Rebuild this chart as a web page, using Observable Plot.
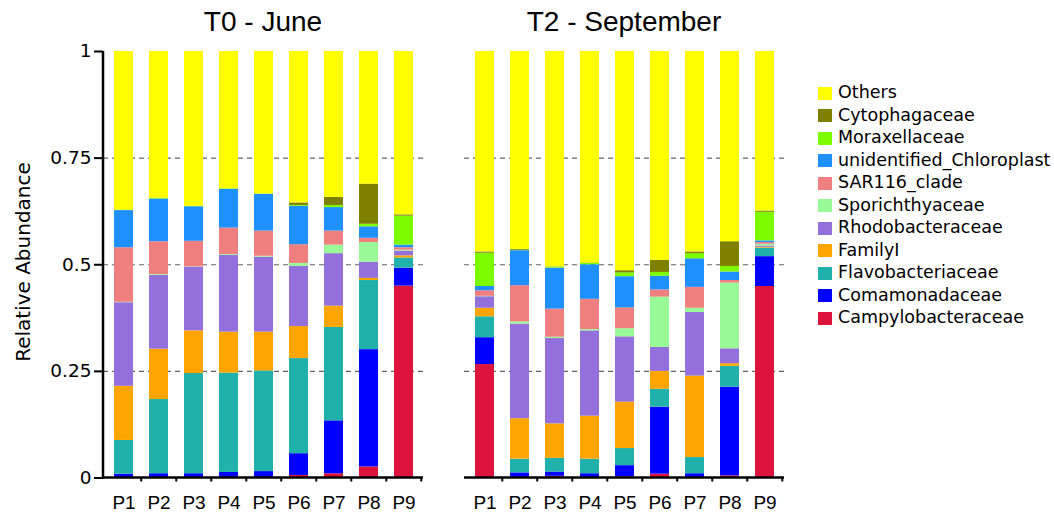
<!DOCTYPE html>
<html>
<head>
<meta charset="utf-8">
<script src="https://cdn.jsdelivr.net/npm/d3@7"></script>
<script src="https://cdn.jsdelivr.net/npm/@observablehq/plot@0.6"></script>
<style>
  body { margin: 0; background: #fff; }
  #chart { position: relative; width: 1054px; height: 515px; overflow: hidden; background: #fff; }
  #chart svg { position: absolute; top: 0; background: transparent; }
  .title { position: absolute; top: 8px; font-family: "Liberation Sans", Arial, sans-serif; font-size: 28px; line-height: 28px; text-align: center; color: #000; }
  .ylabel { position: absolute; left: 22.5px; top: 262px; transform: translate(-50%, -50%) rotate(-90deg); white-space: nowrap; font-family: "DejaVu Sans", sans-serif; font-size: 20px; color: #000; }
  .legend { position: absolute; left: 818px; top: 81px; font-family: "DejaVu Sans", sans-serif; font-size: 17.5px; color: #000; }
  .legend .row { position: relative; height: 22.5px; line-height: 22.5px; white-space: nowrap; }
  .legend .sw { position: absolute; left: 0; top: 5.7px; width: 14px; height: 13px; }
  .legend .lab { position: absolute; left: 20px; top: 0; }
</style>
</head>
<body>
<div id="chart"></div>
<script>
// Samples along the x axis
const samples = ["P1", "P2", "P3", "P4", "P5", "P6", "P7", "P8", "P9"];

// Families in stacking order, bottom to top
const families = [
  "Campylobacteraceae", "Comamonadaceae", "Flavobacteriaceae", "FamilyI",
  "Rhodobacteraceae", "Sporichthyaceae", "SAR116_clade",
  "unidentified_Chloroplast", "Moraxellaceae", "Cytophagaceae", "Others"
];
const familyColors = [
  "#DC143C", "#0000FF", "#20B2AA", "#FFA500",
  "#9370DB", "#98FB98", "#F08080",
  "#1E90FF", "#7CFC00", "#808000", "#FFFF00"
];

// Relative abundance, T0 - June (P1..P9)
const t0Campylobacteraceae = [0, 0, 0, 0, 0, 0.006, 0.010, 0.026, 0.450];
const t0Comamonadaceae     = [0.009, 0.010, 0.010, 0.013, 0.015, 0.051, 0.124, 0.275, 0.042];
const t0Flavobacteriaceae  = [0.079, 0.174, 0.235, 0.233, 0.236, 0.223, 0.219, 0.162, 0.024];
const t0FamilyI            = [0.127, 0.118, 0.100, 0.096, 0.091, 0.075, 0.050, 0.005, 0.005];
const t0Rhodobacteraceae   = [0.196, 0.173, 0.149, 0.180, 0.176, 0.141, 0.123, 0.038, 0.011];
const t0Sporichthyaceae    = [0.001, 0.002, 0.001, 0.002, 0.002, 0.007, 0.020, 0.046, 0.002];
const t0SAR116             = [0.128, 0.077, 0.060, 0.062, 0.059, 0.044, 0.033, 0.010, 0.006];
const t0Chloroplast        = [0.087, 0.100, 0.081, 0.091, 0.086, 0.090, 0.055, 0.027, 0.006];
const t0Moraxellaceae      = [0.001, 0.002, 0.001, 0.001, 0.001, 0.002, 0.005, 0.006, 0.068];
const t0Cytophagaceae      = [0, 0, 0, 0, 0, 0.006, 0.019, 0.094, 0.003];
const t0Others             = [0.372, 0.344, 0.363, 0.322, 0.334, 0.355, 0.342, 0.311, 0.383];

// Relative abundance, T2 - September (P1..P9)
const t2Campylobacteraceae = [0.266, 0, 0.004, 0, 0.003, 0.009, 0, 0.005, 0.449];
const t2Comamonadaceae     = [0.063, 0.012, 0.010, 0.010, 0.026, 0.157, 0.010, 0.208, 0.070];
const t2Flavobacteriaceae  = [0.049, 0.032, 0.032, 0.034, 0.040, 0.042, 0.038, 0.049, 0.020];
const t2FamilyI            = [0.020, 0.095, 0.081, 0.101, 0.109, 0.042, 0.191, 0.006, 0.002];
const t2Rhodobacteraceae   = [0.027, 0.222, 0.200, 0.200, 0.153, 0.056, 0.149, 0.035, 0.003];
const t2Sporichthyaceae    = [0.001, 0.005, 0.003, 0.003, 0.019, 0.118, 0.010, 0.154, 0.004];
const t2SAR116             = [0.013, 0.085, 0.066, 0.071, 0.049, 0.017, 0.049, 0.006, 0.004];
const t2Chloroplast        = [0.010, 0.082, 0.096, 0.081, 0.073, 0.032, 0.067, 0.020, 0.004];
const t2Moraxellaceae      = [0.078, 0.001, 0.002, 0.003, 0.009, 0.009, 0.012, 0.013, 0.067];
const t2Cytophagaceae      = [0.003, 0.002, 0.001, 0.001, 0.005, 0.028, 0.004, 0.058, 0.003];
const t2Others             = [0.470, 0.464, 0.505, 0.496, 0.514, 0.490, 0.470, 0.446, 0.374];

const yTicks = [0, 0.25, 0.5, 0.75, 1];
const gridTicks = [0.25, 0.5, 0.75];

const t0Series = [t0Campylobacteraceae, t0Comamonadaceae, t0Flavobacteriaceae, t0FamilyI,
  t0Rhodobacteraceae, t0Sporichthyaceae, t0SAR116, t0Chloroplast, t0Moraxellaceae,
  t0Cytophagaceae, t0Others];
const t2Series = [t2Campylobacteraceae, t2Comamonadaceae, t2Flavobacteriaceae, t2FamilyI,
  t2Rhodobacteraceae, t2Sporichthyaceae, t2SAR116, t2Chloroplast, t2Moraxellaceae,
  t2Cytophagaceae, t2Others];

// Long table: one row per sample x family
function toRows(series) {
  const rows = [];
  samples.forEach((s, i) => families.forEach((f, j) => rows.push({sample: s, family: f, value: series[j][i]})));
  return rows;
}

const barPad = 0.46;

// Black axis lines plus small ticks at the boundaries between samples
function axisLines(withYLine) {
  return (index, scales, values, dims) => {
    const {width, height, marginLeft, marginRight, marginTop, marginBottom} = dims;
    const x0 = marginLeft, x1 = width - marginRight, yb = height - marginBottom;
    const step = (x1 - x0) / samples.length;
    const bw = typeof scales.x.bandwidth === "function" ? scales.x.bandwidth() : step * (1 - barPad);
    const g = d3.create("svg:g").attr("stroke", "#000").attr("fill", "none");
    g.append("line").attr("x1", x0).attr("x2", x1).attr("y1", yb).attr("y2", yb).attr("stroke-width", 2.5);
    if (withYLine) {
      g.append("line").attr("x1", x0).attr("x2", x0).attr("y1", marginTop).attr("y2", yb + 1.25).attr("stroke-width", 2.5);
    }
    samples.forEach(s => {
      const cx = scales.x(s) + bw / 2 + step / 2;
      g.append("line").attr("x1", cx).attr("x2", cx).attr("y1", yb).attr("y2", yb + 4).attr("stroke-width", 2);
    });
    return g.node();
  };
}

function panel(series, opts) {
  const marks = [
    Plot.gridY(gridTicks, {stroke: "#666", strokeOpacity: 1, strokeWidth: 1.2, strokeDasharray: "5,4"}),
    Plot.barY(toRows(series), {x: "sample", y: "value", fill: "family", order: families}),
    Plot.axisX({tickSize: 0, tickPadding: 17, fontSize: 19, fontFamily: "Liberation Sans, Arial, sans-serif", label: null}),
    axisLines(opts.yAxis)
  ];
  if (opts.yAxis) {
    marks.push(Plot.axisY(yTicks, {
      tickFormat: d => String(d), tickSize: 9, tickPadding: 3, strokeWidth: 2,
      fontSize: 18.5, fontFamily: "DejaVu Sans, sans-serif", label: null
    }));
  }
  return Plot.plot({
    width: opts.width,
    height: 515,
    marginLeft: opts.marginLeft,
    marginRight: opts.marginRight,
    marginTop: 51,
    marginBottom: 37.5,
    x: {domain: samples, paddingInner: barPad, paddingOuter: barPad / 2},
    y: opts.yAxis ? {domain: [0, 1]} : {domain: [0, 1], axis: null},
    color: {domain: families, range: familyColors},
    marks
  });
}

const chart = document.getElementById("chart");

const left = panel(t0Series, {width: 430, marginLeft: 103, marginRight: 7, yAxis: true});
left.style.left = "0px";
chart.appendChild(left);

const right = panel(t2Series, {width: 360, marginLeft: 24, marginRight: 16, yAxis: false});
right.style.left = "440px";
chart.appendChild(right);

// Panel titles
function addTitle(text, x0, x1) {
  const d = document.createElement("div");
  d.className = "title";
  d.style.left = x0 + "px";
  d.style.width = (x1 - x0) + "px";
  d.textContent = text;
  chart.appendChild(d);
}
addTitle("T0 - June", 103, 423);
addTitle("T2 - September", 464, 784);

// Y axis title
const yl = document.createElement("div");
yl.className = "ylabel";
yl.textContent = "Relative Abundance";
chart.appendChild(yl);

// Legend, top to bottom in reverse stacking order
const legend = document.createElement("div");
legend.className = "legend";
families.slice().reverse().forEach(f => {
  const row = document.createElement("div");
  row.className = "row";
  const sw = document.createElement("span");
  sw.className = "sw";
  sw.style.background = familyColors[families.indexOf(f)];
  const lab = document.createElement("span");
  lab.className = "lab";
  lab.textContent = f;
  row.appendChild(sw);
  row.appendChild(lab);
  legend.appendChild(row);
});
chart.appendChild(legend);
</script>
</body>
</html>
